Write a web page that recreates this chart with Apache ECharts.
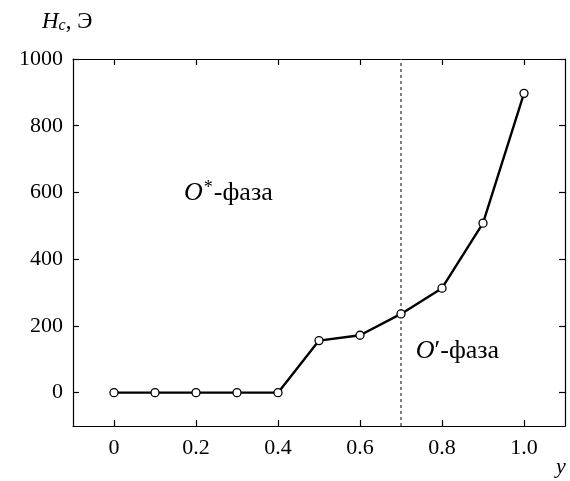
<!DOCTYPE html>
<html>
<head>
<meta charset="utf-8">
<script src="https://cdn.jsdelivr.net/npm/echarts@6/dist/echarts.min.js"></script>
<style>
  html, body { margin: 0; padding: 0; background: #fff; }
  #chart { width: 570px; height: 481px; }
</style>
</head>
<body>
<div id="chart"></div>
<script>
// Composition y and coercive field Hc (Oe)
const yValues = [0, 0.1, 0.2, 0.3, 0.4, 0.5, 0.6, 0.7, 0.8, 0.9, 1.0];
const hcValues = [0, 0, 0, 0, 0, 156, 172, 236, 313, 508, 897];
const xTicks = [0, 0.2, 0.4, 0.6, 0.8, 1.0];
const yTicks = [0, 200, 400, 600, 800, 1000];
const phaseBoundary = 0.7;

const FONT = '"Liberation Serif", "DejaVu Serif", serif';

const points = yValues.map((x, i) => [x, hcValues[i]]);

const axisCommon = {
  axisLine: { show: true, onZero: false, lineStyle: { color: '#000', width: 1.2 } },
  splitLine: { show: false },
};
const tickStyle = { color: '#000', width: 1.2 };

const chart = echarts.init(document.getElementById('chart'));
chart.setOption({
  animation: false,
  backgroundColor: '#fff',
  grid: { left: 73, right: 5, top: 59, bottom: 55 },
  xAxis: [
    Object.assign({
      type: 'value', min: -0.1, max: 1.1, position: 'bottom',
      axisTick: { show: true, inside: true, length: 6, customValues: xTicks, lineStyle: tickStyle },
      axisLabel: {
        customValues: xTicks, margin: 11, color: '#000', fontFamily: FONT, fontSize: 22,
        formatter: v => (v === 0 ? '0' : v.toFixed(1))
      }
    }, axisCommon),
    Object.assign({
      type: 'value', min: -0.1, max: 1.1, position: 'top',
      axisTick: { show: true, inside: true, length: 6, customValues: xTicks, lineStyle: tickStyle },
      axisLabel: { show: false }
    }, axisCommon)
  ],
  yAxis: [
    Object.assign({
      type: 'value', min: -100, max: 1000, position: 'left',
      axisTick: { show: true, inside: true, length: 6, customValues: yTicks, lineStyle: tickStyle },
      axisLabel: {
        customValues: yTicks, margin: 10, color: '#000', fontFamily: FONT, fontSize: 22,
        formatter: v => String(v)
      }
    }, axisCommon),
    Object.assign({
      type: 'value', min: -100, max: 1000, position: 'right',
      axisTick: { show: true, inside: true, length: 6, customValues: yTicks, lineStyle: tickStyle },
      axisLabel: { show: false }
    }, axisCommon)
  ],
  series: [{
    type: 'line',
    data: points,
    xAxisIndex: 0, yAxisIndex: 0,
    symbol: 'circle',
    symbolSize: 8,
    showAllSymbol: true,
    lineStyle: { color: '#000', width: 2.4 },
    itemStyle: { color: '#fff', borderColor: '#000', borderWidth: 1.3 },
    z: 3,
    markLine: {
      silent: true,
      symbol: 'none',
      label: { show: false },
      lineStyle: { color: '#555', type: [3, 3], width: 1.5 },
      data: [{ xAxis: phaseBoundary }],
      z: 1
    },
    markPoint: {
      silent: true,
      symbol: 'circle',
      symbolSize: 0,
      data: [
        {
          coord: [0.279, 597],
          label: {
            show: true, position: 'inside', align: 'center', verticalAlign: 'middle',
            formatter: '{i|O}{s|*}{t|-фаза}',
            rich: {
              i: { fontFamily: FONT, fontSize: 26, fontStyle: 'italic', color: '#000' },
              s: { fontFamily: FONT, fontSize: 18, color: '#000', verticalAlign: 'top', padding: [0, 1, 10, 1] },
              t: { fontFamily: FONT, fontSize: 26, color: '#000' }
            }
          }
        },
        {
          coord: [0.736, 123],
          label: {
            show: true, position: 'inside', align: 'left', verticalAlign: 'middle',
            formatter: '{i|O}{t|′-фаза}',
            rich: {
              i: { fontFamily: FONT, fontSize: 26, fontStyle: 'italic', color: '#000' },
              t: { fontFamily: FONT, fontSize: 26, color: '#000' }
            }
          }
        }
      ]
    }
  }],
  graphic: [
    {
      type: 'text', left: 42, top: 10,
      style: {
        text: '{h|H}{c|c}{t|, Э}',
        rich: {
          h: { fontFamily: FONT, fontSize: 23, fontStyle: 'italic', fill: '#000' },
          c: { fontFamily: FONT, fontSize: 16, fontStyle: 'italic', fill: '#000', padding: [9, 0, 0, 0] },
          t: { fontFamily: FONT, fontSize: 23, fill: '#000' }
        }
      }
    },
    {
      type: 'text', left: 556, top: 456,
      style: { text: 'y', fontFamily: FONT, fontSize: 22, fontStyle: 'italic', fill: '#000' }
    }
  ]
});
</script>
</body>
</html>
